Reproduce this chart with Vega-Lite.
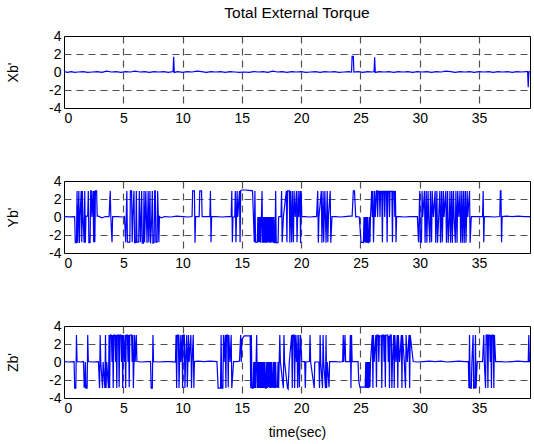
{
"$schema":"https://vega.github.io/schema/vega-lite/v6.json",
"padding":{"left":6,"top":5,"right":0,"bottom":5},
"background":"white",
"datasets":{
"x":[{"t":0,"v":0.05},{"t":0.3,"v":-0.05},{"t":0.6,"v":0.05},{"t":0.9,"v":-0.05},{"t":1.2,"v":0.0},{"t":1.6,"v":0.05},{"t":2.0,"v":-0.05},{"t":2.4,"v":0.0},{"t":2.8,"v":0.05},{"t":3.2,"v":-0.05},{"t":3.6,"v":0.1},{"t":4.0,"v":0.0},{"t":4.4,"v":0.05},{"t":4.8,"v":-0.05},{"t":5.2,"v":0.05},{"t":5.6,"v":0.0},{"t":6.0,"v":0.1},{"t":6.4,"v":0.0},{"t":6.8,"v":0.05},{"t":7.2,"v":-0.05},{"t":7.6,"v":0.05},{"t":8.0,"v":0.0},{"t":8.4,"v":0.05},{"t":8.8,"v":-0.05},{"t":9.2,"v":0.05},{"t":9.25,"v":1.7},{"t":9.3,"v":-0.05},{"t":9.6,"v":0.05},{"t":10.0,"v":-0.05},{"t":10.4,"v":0.05},{"t":10.8,"v":0.0},{"t":11.2,"v":0.1},{"t":11.6,"v":0.05},{"t":12.0,"v":-0.05},{"t":12.4,"v":0.05},{"t":12.8,"v":0.0},{"t":13.2,"v":0.05},{"t":13.6,"v":-0.05},{"t":14.0,"v":0.05},{"t":14.4,"v":0.0},{"t":14.8,"v":-0.05},{"t":15.2,"v":0.0},{"t":15.6,"v":-0.05},{"t":16.0,"v":0.05},{"t":16.4,"v":0.0},{"t":16.8,"v":0.05},{"t":17.2,"v":-0.05},{"t":17.6,"v":0.1},{"t":18.0,"v":0.0},{"t":18.4,"v":0.05},{"t":18.8,"v":-0.05},{"t":19.2,"v":0.05},{"t":19.6,"v":0.0},{"t":20.0,"v":0.05},{"t":20.4,"v":-0.05},{"t":20.8,"v":0.0},{"t":21.2,"v":0.05},{"t":21.6,"v":-0.05},{"t":22.0,"v":0.05},{"t":22.4,"v":0.0},{"t":22.8,"v":0.05},{"t":23.2,"v":-0.05},{"t":23.6,"v":0.0},{"t":24.0,"v":0.05},{"t":24.25,"v":0.0},{"t":24.3,"v":1.75},{"t":24.4,"v":1.75},{"t":24.45,"v":0.0},{"t":24.8,"v":0.05},{"t":25.2,"v":-0.05},{"t":25.6,"v":0.05},{"t":26.0,"v":0.0},{"t":26.15,"v":0.05},{"t":26.2,"v":1.65},{"t":26.25,"v":-0.05},{"t":26.6,"v":0.05},{"t":27.0,"v":0.0},{"t":27.4,"v":0.05},{"t":27.8,"v":-0.05},{"t":28.2,"v":0.05},{"t":28.6,"v":0.0},{"t":29.0,"v":0.05},{"t":29.4,"v":-0.05},{"t":29.8,"v":0.05},{"t":30.2,"v":0.0},{"t":30.6,"v":0.05},{"t":31.0,"v":-0.05},{"t":31.4,"v":0.05},{"t":31.8,"v":0.0},{"t":32.2,"v":0.1},{"t":32.6,"v":0.05},{"t":33.0,"v":-0.05},{"t":33.4,"v":0.05},{"t":33.8,"v":0.0},{"t":34.2,"v":0.05},{"t":34.6,"v":-0.05},{"t":35.0,"v":0.05},{"t":35.4,"v":0.0},{"t":35.8,"v":0.05},{"t":36.2,"v":-0.05},{"t":36.6,"v":0.05},{"t":37.0,"v":0.0},{"t":37.4,"v":0.05},{"t":37.8,"v":-0.05},{"t":38.2,"v":0.05},{"t":38.6,"v":0.0},{"t":39.0,"v":0.05},{"t":39.1,"v":0.05},{"t":39.15,"v":-1.7},{"t":39.2,"v":0.0},{"t":39.3,"v":0.05}],
"y":[{"t":0,"v":0.05},{"t":0.5,"v":0.02},{"t":0.9,"v":0.05},{"t":0.95,"v":-2.85},{"t":1.05,"v":-2.85},{"t":1.1,"v":2.9},{"t":1.15,"v":-2.85},{"t":1.25,"v":2.9},{"t":1.3,"v":-2.9},{"t":1.35,"v":0},{"t":1.45,"v":2.9},{"t":1.5,"v":-2.8},{"t":1.55,"v":2.9},{"t":1.6,"v":0},{"t":1.7,"v":-2.85},{"t":1.75,"v":2.9},{"t":1.8,"v":-2.85},{"t":1.85,"v":0.1},{"t":2.0,"v":0.1},{"t":2.05,"v":2.9},{"t":2.1,"v":-2.85},{"t":2.2,"v":-2.85},{"t":2.25,"v":2.9},{"t":2.3,"v":2.9},{"t":2.35,"v":0},{"t":2.45,"v":2.9},{"t":2.5,"v":-2.8},{"t":2.55,"v":2.9},{"t":2.6,"v":-2.8},{"t":2.65,"v":2.9},{"t":2.75,"v":2.9},{"t":2.8,"v":0.1},{"t":2.9,"v":0.1},{"t":3.2,"v":-0.1},{"t":3.5,"v":0.05},{"t":3.8,"v":0.05},{"t":3.9,"v":2.9},{"t":3.95,"v":0},{"t":4.05,"v":-2.8},{"t":4.1,"v":0.05},{"t":4.5,"v":0.05},{"t":5.0,"v":0.0},{"t":5.1,"v":0.05},{"t":5.2,"v":-2.8},{"t":5.3,"v":2.9},{"t":5.35,"v":-2.8},{"t":5.55,"v":-2.8},{"t":5.6,"v":2.9},{"t":5.7,"v":2.9},{"t":5.75,"v":-2.8},{"t":5.8,"v":0},{"t":5.9,"v":2.9},{"t":5.95,"v":-2.85},{"t":6.05,"v":-2.85},{"t":6.1,"v":2.9},{"t":6.15,"v":-2.8},{"t":6.3,"v":-2.8},{"t":6.35,"v":2.9},{"t":6.4,"v":0},{"t":6.45,"v":-2.8},{"t":6.55,"v":2.9},{"t":6.6,"v":-2.9},{"t":6.7,"v":-2.9},{"t":6.75,"v":2.9},{"t":6.8,"v":-2.8},{"t":6.9,"v":2.9},{"t":6.95,"v":0},{"t":7.0,"v":-2.9},{"t":7.1,"v":2.9},{"t":7.15,"v":-2.8},{"t":7.25,"v":2.9},{"t":7.3,"v":-2.95},{"t":7.4,"v":0},{"t":7.45,"v":2.9},{"t":7.5,"v":-2.9},{"t":7.6,"v":-2.85},{"t":7.65,"v":2.9},{"t":7.7,"v":2.9},{"t":7.75,"v":-2.8},{"t":7.85,"v":-2.8},{"t":7.9,"v":2.9},{"t":8.0,"v":-2.8},{"t":8.05,"v":0.05},{"t":8.2,"v":-0.1},{"t":8.5,"v":0.05},{"t":9.0,"v":0.0},{"t":9.5,"v":0.1},{"t":10.0,"v":0.05},{"t":10.5,"v":0.0},{"t":10.8,"v":0.05},{"t":10.85,"v":2.9},{"t":11.0,"v":2.9},{"t":11.05,"v":-2.85},{"t":11.1,"v":0.05},{"t":11.4,"v":0.05},{"t":11.45,"v":2.9},{"t":11.6,"v":2.9},{"t":11.65,"v":0.05},{"t":12.3,"v":0.05},{"t":12.35,"v":2.9},{"t":12.4,"v":-2.8},{"t":12.45,"v":0.05},{"t":12.8,"v":0.05},{"t":13.3,"v":0.0},{"t":13.8,"v":0.05},{"t":14.1,"v":0.05},{"t":14.15,"v":2.9},{"t":14.2,"v":-2.8},{"t":14.25,"v":0},{"t":14.4,"v":0},{"t":14.45,"v":2.9},{"t":14.5,"v":-2.8},{"t":14.6,"v":2.9},{"t":14.65,"v":0},{"t":14.8,"v":2.9},{"t":14.85,"v":-2.8},{"t":14.9,"v":2.9},{"t":15.0,"v":3.0},{"t":15.3,"v":3.0},{"t":15.6,"v":2.95},{"t":15.9,"v":2.9},{"t":16.05,"v":-2.8},{"t":16.1,"v":2.9},{"t":16.15,"v":-2.8},{"t":16.3,"v":-2.8},{"t":16.35,"v":0},{"t":16.4,"v":-2.8},{"t":16.45,"v":0},{"t":16.5,"v":-2.8},{"t":16.55,"v":0},{"t":16.6,"v":-2.85},{"t":16.65,"v":0},{"t":16.7,"v":2.9},{"t":16.75,"v":-2.85},{"t":16.8,"v":0},{"t":16.85,"v":-2.85},{"t":16.9,"v":0},{"t":16.95,"v":-2.85},{"t":17.0,"v":0},{"t":17.05,"v":-2.85},{"t":17.1,"v":0},{"t":17.15,"v":-2.85},{"t":17.2,"v":0},{"t":17.25,"v":-2.8},{"t":17.3,"v":0},{"t":17.35,"v":-2.85},{"t":17.4,"v":0},{"t":17.45,"v":-2.85},{"t":17.5,"v":0},{"t":17.55,"v":-2.8},{"t":17.6,"v":0},{"t":17.65,"v":-2.85},{"t":17.7,"v":0},{"t":17.75,"v":-2.85},{"t":17.8,"v":-2.85},{"t":17.85,"v":2.9},{"t":17.9,"v":-2.85},{"t":18.05,"v":-2.85},{"t":18.1,"v":0},{"t":18.15,"v":0.05},{"t":18.3,"v":0.05},{"t":18.35,"v":2.9},{"t":18.4,"v":-2.8},{"t":18.5,"v":0},{"t":18.75,"v":2.9},{"t":18.8,"v":-2.8},{"t":18.85,"v":2.9},{"t":19.0,"v":2.9},{"t":19.05,"v":-2.85},{"t":19.1,"v":2.9},{"t":19.2,"v":-2.8},{"t":19.25,"v":2.9},{"t":19.35,"v":-2.8},{"t":19.4,"v":2.9},{"t":19.5,"v":0},{"t":19.6,"v":2.9},{"t":19.65,"v":-2.8},{"t":19.75,"v":2.9},{"t":19.8,"v":0},{"t":19.9,"v":2.9},{"t":19.95,"v":-2.9},{"t":20.0,"v":2.9},{"t":20.05,"v":0.05},{"t":20.3,"v":0.05},{"t":20.7,"v":0.0},{"t":21.1,"v":0.05},{"t":21.3,"v":0.05},{"t":21.4,"v":2.9},{"t":21.45,"v":-2.85},{"t":21.5,"v":0},{"t":21.7,"v":2.9},{"t":21.75,"v":-2.85},{"t":21.85,"v":2.9},{"t":21.9,"v":-2.8},{"t":22.0,"v":2.9},{"t":22.05,"v":0},{"t":22.1,"v":-2.85},{"t":22.2,"v":2.9},{"t":22.25,"v":-2.8},{"t":22.3,"v":0},{"t":22.45,"v":2.9},{"t":22.5,"v":-2.85},{"t":22.6,"v":0.05},{"t":22.9,"v":0.05},{"t":23.3,"v":0.0},{"t":23.7,"v":0.05},{"t":24.1,"v":0.1},{"t":24.3,"v":0.1},{"t":24.4,"v":2.9},{"t":24.5,"v":2.9},{"t":24.6,"v":0},{"t":24.7,"v":0.05},{"t":24.9,"v":0},{"t":25.05,"v":-2.8},{"t":25.25,"v":-2.85},{"t":25.3,"v":0},{"t":25.35,"v":-2.8},{"t":25.4,"v":0},{"t":25.45,"v":-2.85},{"t":25.5,"v":0},{"t":25.55,"v":-2.85},{"t":25.6,"v":0},{"t":25.65,"v":-2.85},{"t":25.7,"v":-2.85},{"t":25.75,"v":0},{"t":25.8,"v":-2.8},{"t":25.85,"v":0.05},{"t":25.95,"v":2.9},{"t":26.0,"v":0},{"t":26.05,"v":2.9},{"t":26.1,"v":-2.8},{"t":26.2,"v":2.9},{"t":26.25,"v":0},{"t":26.35,"v":2.9},{"t":26.4,"v":2.9},{"t":26.45,"v":0},{"t":26.5,"v":2.85},{"t":26.6,"v":2.85},{"t":26.65,"v":0},{"t":26.7,"v":2.85},{"t":26.8,"v":2.85},{"t":26.85,"v":-2.8},{"t":26.9,"v":2.85},{"t":27.0,"v":2.85},{"t":27.05,"v":0},{"t":27.1,"v":2.85},{"t":27.2,"v":2.85},{"t":27.25,"v":-2.8},{"t":27.3,"v":2.85},{"t":27.4,"v":2.85},{"t":27.45,"v":0},{"t":27.5,"v":2.85},{"t":27.65,"v":2.85},{"t":27.7,"v":-2.8},{"t":27.75,"v":2.85},{"t":27.85,"v":2.85},{"t":27.9,"v":0},{"t":27.95,"v":2.9},{"t":28.0,"v":-2.8},{"t":28.05,"v":0.05},{"t":28.3,"v":0.05},{"t":28.7,"v":0.0},{"t":29.2,"v":0.05},{"t":29.8,"v":0.05},{"t":29.9,"v":-2.8},{"t":30.0,"v":2.9},{"t":30.05,"v":-2.8},{"t":30.15,"v":-2.8},{"t":30.2,"v":2.9},{"t":30.25,"v":0},{"t":30.4,"v":2.9},{"t":30.45,"v":-2.85},{"t":30.55,"v":2.9},{"t":30.6,"v":-2.85},{"t":30.7,"v":2.9},{"t":30.75,"v":0},{"t":30.85,"v":-2.85},{"t":30.9,"v":2.9},{"t":31.0,"v":-2.8},{"t":31.05,"v":2.9},{"t":31.15,"v":0},{"t":31.3,"v":2.9},{"t":31.35,"v":-2.85},{"t":31.45,"v":2.9},{"t":31.5,"v":-2.85},{"t":31.6,"v":0},{"t":31.7,"v":2.9},{"t":31.75,"v":-2.85},{"t":31.85,"v":2.9},{"t":31.9,"v":-2.8},{"t":32.0,"v":2.9},{"t":32.05,"v":0},{"t":32.2,"v":2.9},{"t":32.25,"v":-2.85},{"t":32.35,"v":2.9},{"t":32.4,"v":-2.85},{"t":32.5,"v":0},{"t":32.55,"v":2.9},{"t":32.6,"v":-2.85},{"t":32.7,"v":2.9},{"t":32.75,"v":-2.85},{"t":32.85,"v":2.9},{"t":32.9,"v":0},{"t":33.0,"v":-2.85},{"t":33.05,"v":2.9},{"t":33.15,"v":-2.85},{"t":33.2,"v":2.9},{"t":33.3,"v":0},{"t":33.4,"v":2.9},{"t":33.45,"v":-2.85},{"t":33.55,"v":2.9},{"t":33.6,"v":-2.85},{"t":33.7,"v":2.9},{"t":33.75,"v":-2.9},{"t":33.85,"v":2.9},{"t":33.9,"v":-2.85},{"t":34.0,"v":2.9},{"t":34.05,"v":0},{"t":34.2,"v":2.9},{"t":34.25,"v":-2.85},{"t":34.35,"v":0.05},{"t":34.6,"v":0.05},{"t":35.0,"v":0.05},{"t":35.3,"v":0.05},{"t":35.35,"v":2.9},{"t":35.4,"v":-2.8},{"t":35.45,"v":0.05},{"t":35.8,"v":0.05},{"t":36.3,"v":0.0},{"t":36.75,"v":0.05},{"t":36.8,"v":2.9},{"t":36.85,"v":2.9},{"t":36.9,"v":-2.8},{"t":36.95,"v":0.05},{"t":37.3,"v":0.1},{"t":37.8,"v":0.05},{"t":38.3,"v":0.1},{"t":38.8,"v":0.05},{"t":39.3,"v":0.05}],
"z":[{"t":0,"v":0.05},{"t":0.4,"v":0.0},{"t":0.85,"v":0.05},{"t":0.9,"v":-2.9},{"t":1.0,"v":-2.9},{"t":1.05,"v":3.0},{"t":1.1,"v":0.05},{"t":1.4,"v":0.0},{"t":1.65,"v":0.05},{"t":1.7,"v":-2.8},{"t":1.75,"v":-2.8},{"t":1.8,"v":0},{"t":1.85,"v":-2.9},{"t":1.95,"v":-2.9},{"t":2.0,"v":3.0},{"t":2.05,"v":0.05},{"t":2.4,"v":0.0},{"t":2.9,"v":0.05},{"t":3.0,"v":-2.9},{"t":3.05,"v":3.0},{"t":3.1,"v":0},{"t":3.25,"v":-2.9},{"t":3.3,"v":0},{"t":3.45,"v":-2.9},{"t":3.5,"v":3.0},{"t":3.55,"v":-2.9},{"t":3.6,"v":0},{"t":3.75,"v":-2.9},{"t":3.8,"v":3.0},{"t":3.85,"v":-2.9},{"t":3.9,"v":3.0},{"t":4.0,"v":3.0},{"t":4.05,"v":0},{"t":4.1,"v":3.0},{"t":4.15,"v":-2.9},{"t":4.2,"v":3.0},{"t":4.3,"v":3.0},{"t":4.35,"v":0},{"t":4.4,"v":3.0},{"t":4.45,"v":-2.9},{"t":4.5,"v":3.0},{"t":4.6,"v":3.0},{"t":4.65,"v":-2.8},{"t":4.7,"v":3.0},{"t":4.8,"v":3.0},{"t":4.85,"v":0},{"t":4.9,"v":3.0},{"t":4.95,"v":-2.9},{"t":5.0,"v":3.0},{"t":5.1,"v":0},{"t":5.15,"v":3.0},{"t":5.2,"v":-2.9},{"t":5.25,"v":3.0},{"t":5.35,"v":3.0},{"t":5.4,"v":0},{"t":5.45,"v":3.0},{"t":5.5,"v":-2.8},{"t":5.55,"v":3.0},{"t":5.7,"v":3.0},{"t":5.75,"v":0},{"t":5.8,"v":3.0},{"t":5.85,"v":-2.9},{"t":5.95,"v":3.0},{"t":6.0,"v":0},{"t":6.1,"v":3.0},{"t":6.15,"v":0.05},{"t":6.5,"v":0.0},{"t":7.0,"v":0.05},{"t":7.3,"v":0.05},{"t":7.35,"v":-2.9},{"t":7.45,"v":-2.9},{"t":7.5,"v":3.0},{"t":7.55,"v":0.05},{"t":8.0,"v":0.0},{"t":8.5,"v":0.05},{"t":9.0,"v":0.05},{"t":9.4,"v":0.0},{"t":9.45,"v":3.0},{"t":9.5,"v":-2.9},{"t":9.55,"v":3.0},{"t":9.65,"v":3.0},{"t":9.7,"v":-2.9},{"t":9.8,"v":3.0},{"t":9.85,"v":0},{"t":9.95,"v":3.0},{"t":10.0,"v":-2.9},{"t":10.05,"v":3.0},{"t":10.15,"v":3.0},{"t":10.2,"v":-2.9},{"t":10.25,"v":0},{"t":10.35,"v":3.0},{"t":10.4,"v":-2.8},{"t":10.5,"v":3.0},{"t":10.55,"v":0},{"t":10.7,"v":3.0},{"t":10.75,"v":-2.9},{"t":10.8,"v":0},{"t":10.9,"v":3.0},{"t":10.95,"v":-2.9},{"t":11.0,"v":0.05},{"t":11.3,"v":0.1},{"t":11.8,"v":0.05},{"t":12.3,"v":0.1},{"t":12.9,"v":0.05},{"t":13.0,"v":-2.9},{"t":13.2,"v":-2.9},{"t":13.25,"v":3.0},{"t":13.3,"v":-2.9},{"t":13.4,"v":-2.9},{"t":13.45,"v":3.0},{"t":13.5,"v":0},{"t":13.6,"v":3.0},{"t":13.65,"v":-2.9},{"t":13.7,"v":3.0},{"t":13.8,"v":3.0},{"t":13.85,"v":-2.8},{"t":13.9,"v":3.0},{"t":14.0,"v":0},{"t":14.1,"v":3.0},{"t":14.15,"v":-2.9},{"t":14.3,"v":0.05},{"t":14.6,"v":0.05},{"t":14.8,"v":0.1},{"t":14.9,"v":3.0},{"t":14.95,"v":0},{"t":15.0,"v":2.5},{"t":15.2,"v":2.9},{"t":15.7,"v":2.9},{"t":15.75,"v":-2.9},{"t":15.8,"v":3.0},{"t":15.85,"v":-2.9},{"t":15.95,"v":-2.9},{"t":16.0,"v":0},{"t":16.05,"v":-2.9},{"t":16.1,"v":0},{"t":16.15,"v":-2.9},{"t":16.2,"v":0},{"t":16.25,"v":3.0},{"t":16.3,"v":-2.9},{"t":16.35,"v":0},{"t":16.4,"v":-2.9},{"t":16.45,"v":0},{"t":16.5,"v":-2.9},{"t":16.55,"v":0},{"t":16.6,"v":-2.9},{"t":16.65,"v":0},{"t":16.7,"v":-2.9},{"t":16.75,"v":0},{"t":16.8,"v":-2.9},{"t":16.85,"v":0},{"t":16.9,"v":-2.9},{"t":16.95,"v":0},{"t":17.0,"v":-2.9},{"t":17.05,"v":-2.9},{"t":17.1,"v":0},{"t":17.15,"v":-2.9},{"t":17.2,"v":0},{"t":17.25,"v":-2.8},{"t":17.3,"v":0},{"t":17.35,"v":-2.9},{"t":17.4,"v":0},{"t":17.45,"v":-2.9},{"t":17.5,"v":0},{"t":17.55,"v":-2.8},{"t":17.6,"v":-2.8},{"t":17.65,"v":0},{"t":17.7,"v":-2.9},{"t":17.75,"v":0},{"t":17.8,"v":-2.9},{"t":17.85,"v":0},{"t":17.9,"v":-2.8},{"t":18.0,"v":-2.8},{"t":18.05,"v":0},{"t":18.1,"v":-2.9},{"t":18.2,"v":3.0},{"t":18.25,"v":0},{"t":18.5,"v":-2.9},{"t":18.55,"v":3.0},{"t":18.6,"v":0},{"t":18.85,"v":-2.9},{"t":18.9,"v":-3.0},{"t":19.0,"v":0},{"t":19.2,"v":3.0},{"t":19.25,"v":-2.9},{"t":19.3,"v":3.0},{"t":19.4,"v":3.0},{"t":19.45,"v":-2.9},{"t":19.5,"v":3.0},{"t":19.6,"v":0},{"t":19.65,"v":3.0},{"t":19.7,"v":-2.9},{"t":19.8,"v":3.0},{"t":19.85,"v":-2.8},{"t":19.95,"v":3.0},{"t":20.05,"v":0.05},{"t":20.3,"v":0.05},{"t":20.35,"v":-2.9},{"t":20.4,"v":0},{"t":20.7,"v":0.05},{"t":20.75,"v":3.0},{"t":20.8,"v":0},{"t":21.1,"v":-2.9},{"t":21.15,"v":0},{"t":21.5,"v":0},{"t":21.55,"v":-2.9},{"t":21.6,"v":3.0},{"t":21.65,"v":0},{"t":21.8,"v":-2.9},{"t":21.85,"v":3.0},{"t":21.9,"v":0},{"t":22.05,"v":-2.9},{"t":22.1,"v":3.0},{"t":22.15,"v":-2.9},{"t":22.2,"v":0},{"t":22.35,"v":-2.8},{"t":22.4,"v":0.05},{"t":22.8,"v":0.05},{"t":23.3,"v":0.0},{"t":23.5,"v":0.05},{"t":23.55,"v":3.0},{"t":23.6,"v":0},{"t":23.7,"v":3.0},{"t":23.75,"v":0.05},{"t":24.1,"v":0.05},{"t":24.15,"v":3.0},{"t":24.2,"v":-2.9},{"t":24.25,"v":3.0},{"t":24.3,"v":0.05},{"t":24.8,"v":0.05},{"t":24.85,"v":-2.0},{"t":24.95,"v":-2.8},{"t":25.4,"v":-2.8},{"t":25.45,"v":0},{"t":25.5,"v":-2.9},{"t":25.55,"v":0},{"t":25.6,"v":-2.9},{"t":25.65,"v":0},{"t":25.7,"v":-2.9},{"t":25.75,"v":0},{"t":25.8,"v":-2.8},{"t":25.85,"v":0.05},{"t":26.0,"v":3.0},{"t":26.05,"v":-2.9},{"t":26.1,"v":3.0},{"t":26.15,"v":0},{"t":26.3,"v":3.0},{"t":26.35,"v":-2.8},{"t":26.4,"v":3.0},{"t":26.5,"v":3.0},{"t":26.55,"v":0},{"t":26.6,"v":2.9},{"t":26.75,"v":2.9},{"t":26.8,"v":-2.9},{"t":26.85,"v":3.0},{"t":26.95,"v":3.0},{"t":27.0,"v":0},{"t":27.05,"v":3.0},{"t":27.1,"v":-2.8},{"t":27.15,"v":3.0},{"t":27.3,"v":3.0},{"t":27.35,"v":0},{"t":27.4,"v":2.9},{"t":27.45,"v":-2.9},{"t":27.5,"v":3.0},{"t":27.6,"v":3.0},{"t":27.65,"v":-2.9},{"t":27.7,"v":0},{"t":27.8,"v":3.0},{"t":27.85,"v":-2.9},{"t":27.9,"v":3.0},{"t":28.0,"v":0},{"t":28.1,"v":3.0},{"t":28.15,"v":-2.9},{"t":28.2,"v":3.0},{"t":28.3,"v":0},{"t":28.45,"v":3.0},{"t":28.5,"v":-2.9},{"t":28.55,"v":3.0},{"t":28.7,"v":0},{"t":28.8,"v":-2.9},{"t":28.85,"v":3.0},{"t":28.95,"v":0},{"t":29.1,"v":3.0},{"t":29.15,"v":-2.9},{"t":29.2,"v":3.0},{"t":29.45,"v":0.05},{"t":29.8,"v":0.0},{"t":30.3,"v":0.05},{"t":30.8,"v":0.1},{"t":31.3,"v":0.05},{"t":31.8,"v":0.1},{"t":32.3,"v":0.0},{"t":32.8,"v":0.05},{"t":33.3,"v":0.1},{"t":33.8,"v":0.05},{"t":34.1,"v":0.05},{"t":34.15,"v":-2.9},{"t":34.2,"v":3.0},{"t":34.25,"v":-2.9},{"t":34.35,"v":-2.9},{"t":34.4,"v":0},{"t":34.5,"v":3.0},{"t":34.55,"v":-2.9},{"t":34.65,"v":-2.9},{"t":34.7,"v":3.0},{"t":34.75,"v":-2.9},{"t":34.85,"v":0.05},{"t":35.3,"v":0.05},{"t":35.4,"v":3.0},{"t":35.45,"v":0},{"t":35.55,"v":-2.9},{"t":35.6,"v":3.0},{"t":35.7,"v":3.0},{"t":35.75,"v":-2.9},{"t":35.8,"v":3.0},{"t":35.9,"v":3.0},{"t":35.95,"v":0},{"t":36.0,"v":3.0},{"t":36.05,"v":-2.9},{"t":36.1,"v":3.0},{"t":36.2,"v":3.0},{"t":36.25,"v":-2.9},{"t":36.3,"v":3.0},{"t":36.4,"v":0.05},{"t":36.8,"v":0.05},{"t":37.3,"v":0.0},{"t":37.8,"v":0.05},{"t":38.3,"v":0.1},{"t":38.8,"v":0.05},{"t":39.15,"v":0.05},{"t":39.2,"v":3.0},{"t":39.25,"v":0.05},{"t":39.3,"v":0.05}]
},
"spacing":47,
"vconcat":[
{"width":466,"height":72,"data":{"name":"x"},
 "title":{"text":"Total External Torque","font":"Liberation Sans","fontSize":15.5,"fontWeight":"normal","color":"black","offset":8},
 "mark":{"type":"line","color":"#0000ff","strokeWidth":1.2,"clip":true},
 "encoding":{
  "x":{"field":"t","type":"quantitative","scale":{"domain":[0,39.3],"nice":false,"zero":false},"axis":{"values":[0,5,10,15,20,25,30,35],"title":null}},
  "y":{"field":"v","type":"quantitative","scale":{"domain":[-4,4],"nice":false},"axis":{"values":[-4,-2,0,2,4],"title":"Xb'"}}}},
{"width":466,"height":72,"data":{"name":"y"},
 "mark":{"type":"line","color":"#0000ff","strokeWidth":1.2,"clip":true},
 "encoding":{
  "x":{"field":"t","type":"quantitative","scale":{"domain":[0,39.3],"nice":false,"zero":false},"axis":{"values":[0,5,10,15,20,25,30,35],"title":null}},
  "y":{"field":"v","type":"quantitative","scale":{"domain":[-4,4],"nice":false},"axis":{"values":[-4,-2,0,2,4],"title":"Yb'"}}}},
{"width":466,"height":72,"data":{"name":"z"},
 "mark":{"type":"line","color":"#0000ff","strokeWidth":1.2,"clip":true},
 "encoding":{
  "x":{"field":"t","type":"quantitative","scale":{"domain":[0,39.3],"nice":false,"zero":false},"axis":{"values":[0,5,10,15,20,25,30,35],"title":"time(sec)","titlePadding":10}},
  "y":{"field":"v","type":"quantitative","scale":{"domain":[-4,4],"nice":false},"axis":{"values":[-4,-2,0,2,4],"title":"Zb'"}}}}
],
"config":{
 "view":{"stroke":"black","strokeWidth":1},
 "axis":{"domain":false,"ticks":false,"grid":true,"gridColor":"#505050","gridDash":[7,5],"gridWidth":1.2,
  "gridOpacity":{"condition":{"test":"datum.value==0 || abs(datum.value)==4","value":0},"value":1},
  "labelFont":"Liberation Sans","labelFontSize":14,"labelColor":"black","labelPadding":3,
  "titleFont":"Liberation Sans","titleFontSize":14,"titleFontWeight":"normal","titleColor":"black","labelExpr":"''+datum.value"},
 "axisX":{"titlePadding":4},
 "axisY":{"titlePadding":28}
}
}
